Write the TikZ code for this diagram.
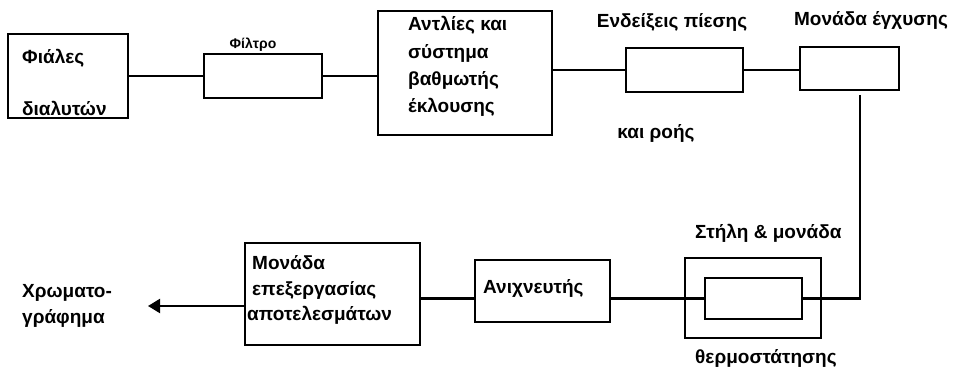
\documentclass[tikz,border=0pt]{standalone}
\usepackage{fontspec}
\setmainfont{Liberation Sans}
\usetikzlibrary{arrows.meta}
\begin{document}
\begin{tikzpicture}[x=1pt,y=-1pt,
  box/.style={draw, line width=2.2pt, inner sep=0pt},
  lbl/.style={inner sep=0pt, font=\bfseries\fontsize{19}{19}\selectfont},
  small/.style={inner sep=0pt, font=\bfseries\fontsize{14}{14}\selectfont},
  conn/.style={line width=2.2pt}]
\useasboundingbox (0,0) rectangle (953,371);
% boxes
\node[box, minimum width=120pt, minimum height=84pt] (vial) at (68,76) {};
\node[box, minimum width=118pt, minimum height=44pt] (filt) at (263,76) {};
\node[box, minimum width=174pt, minimum height=124pt] (pump) at (465,73) {};
\node[box, minimum width=117pt, minimum height=44pt] (press) at (684.5,70) {};
\node[box, minimum width=99pt, minimum height=43pt] (inj) at (849.5,68.5) {};
\node[box, minimum width=136pt, minimum height=80pt] (oven) at (753,298) {};
\node[box, minimum width=97pt, minimum height=41pt] (col) at (753.5,298.5) {};
\node[box, minimum width=135pt, minimum height=62pt] (det) at (542.5,291) {};
\node[box, minimum width=175pt, minimum height=102pt] (proc) at (332.5,294) {};
% texts
\node[lbl, anchor=west] (t1) at (22,58) {Φιάλες};
\node[lbl, anchor=west] (t2) at (22,108) {διαλυτών};
\node[small] (t3) at (253,45) {Φίλτρο};
\node[lbl, anchor=west] (t4) at (408,25) {Αντλίες και};
\node[lbl, anchor=west] (t5) at (408,53) {σύστημα};
\node[lbl, anchor=west] (t6) at (408,80) {βαθμωτής};
\node[lbl, anchor=west] (t7) at (408,107) {έκλουσης};
\node[lbl] (t8) at (672,22) {Ενδείξεις πίεσης};
\node[lbl] (t9) at (656,133) {και ροής};
\node[lbl] (t10) at (871,20) {Μονάδα έγχυσης};
\node[lbl, anchor=west] (t11) at (695,233) {Στήλη \& μονάδα};
\node[lbl, anchor=west] (t12) at (695,358) {θερμοστάτησης};
\node[lbl, anchor=west] (t13) at (483,288) {Ανιχνευτής};
\node[lbl, anchor=west] (t14) at (252,263) {Μονάδα};
\node[lbl, anchor=west] (t15) at (252,290) {επεξεργασίας};
\node[lbl, anchor=west] (t16) at (247,315) {αποτελεσμάτων};
\node[lbl, anchor=west] (t17) at (22,293) {Χρωματο-};
\node[lbl, anchor=west] (t18) at (22,318) {γράφημα};
% connectors
\coordinate (vtop) at (860,95);
\coordinate (out) at (148,306);
\draw[conn] (vial.east) -- (filt.west);
\draw[conn] (filt.east) -- (filt.east -| pump.west);
\draw[conn] (press.west -| pump.east) -- (press.west);
\draw[conn] (press.east) -- (press.east -| inj.west);
\draw[conn] (vtop) |- (col.east);
\draw[conn] (col.west) -- (col.west -| det.east);
\draw[conn] (det.west |- col.west) -- (proc.east |- col.west);
\draw[conn, -{Triangle[length=12pt, width=14pt]}] (proc.west |- out) -- (out);
\end{tikzpicture}
\end{document}
